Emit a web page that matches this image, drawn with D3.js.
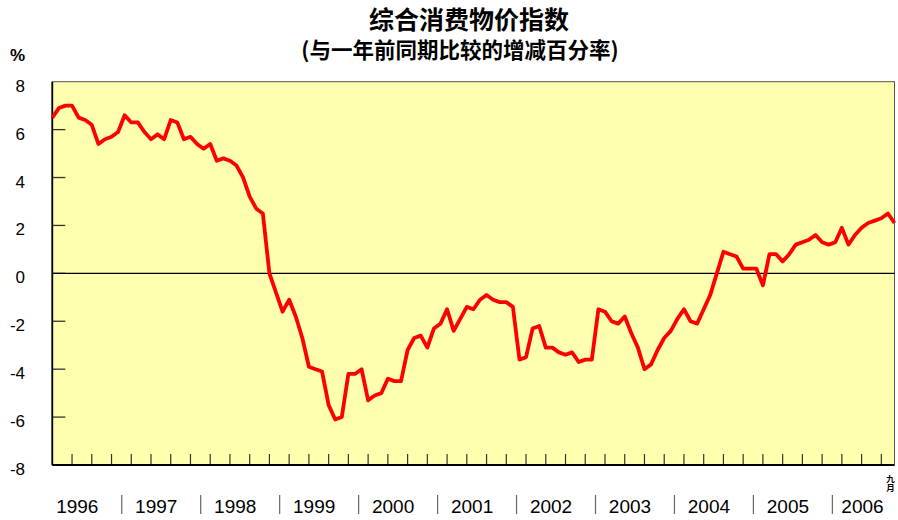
<!DOCTYPE html>
<html>
<head>
<meta charset="utf-8">
<script src="https://cdn.jsdelivr.net/npm/d3@7"></script>
<style>
  body { margin: 0; background: #fff; }
  text { font-family: "Liberation Sans", Arial, sans-serif; }
  .cjk { font-family: "Noto Sans CJK SC", sans-serif; font-weight: bold; }
</style>
</head>
<body>
<div class="cpiChart"></div>
<script>
//============ data =========//
var years = [1996, 1997, 1998, 1999, 2000, 2001, 2002, 2003, 2004, 2005, 2006];
var yTicks = [-8, -6, -4, -2, 0, 2, 4, 6, 8];
var lastMonthLabel = ['九', '月'];
var titleText = '综合消费物价指数',
  subtitleText = '(与一年前同期比较的增减百分率)';

// monthly yoy % change, Jan 1996 .. Sep 2006
var cpiValues = [
  6.5, 6.9, 7.0, 7.0, 6.5, 6.4, 6.2, 5.4, 5.6, 5.7, 5.9, 6.6,   // 1996
  6.3, 6.3, 5.9, 5.6, 5.8, 5.6, 6.4, 6.3, 5.6, 5.7, 5.4, 5.2,   // 1997
  5.4, 4.7, 4.8, 4.7, 4.5, 4.0, 3.2, 2.7, 2.5, 0.0, -0.8, -1.6, // 1998
  -1.1, -1.8, -2.7, -3.9, -4.0, -4.1, -5.5, -6.1, -6.0, -4.2, -4.2, -4.0, // 1999
  -5.3, -5.1, -5.0, -4.4, -4.5, -4.5, -3.2, -2.7, -2.6, -3.1, -2.3, -2.1, // 2000
  -1.5, -2.4, -1.9, -1.4, -1.5, -1.1, -0.9, -1.1, -1.2, -1.2, -1.4, -3.6, // 2001
  -3.5, -2.3, -2.2, -3.1, -3.1, -3.3, -3.4, -3.3, -3.7, -3.6, -3.6, -1.5, // 2002
  -1.6, -2.0, -2.1, -1.8, -2.5, -3.1, -4.0, -3.8, -3.2, -2.7, -2.4, -1.9, // 2003
  -1.5, -2.0, -2.1, -1.5, -0.9, 0.0, 0.9, 0.8, 0.7, 0.2, 0.2, 0.2,        // 2004
  -0.5, 0.8, 0.8, 0.5, 0.8, 1.2, 1.3, 1.4, 1.6, 1.3, 1.2, 1.3,            // 2005
  1.9, 1.2, 1.6, 1.9, 2.1, 2.2, 2.3, 2.5, 2.1                             // 2006
];

//============ layout =========//
var width = 898, height = 520;
var plot = {left: 52.3, right: 894.5, top: 81.7, bottom: 465};

var svg = d3.select('.cpiChart').append('svg')
  .attr('width', width)
  .attr('height', height);

// scales (x on month index so every month gets the same width)
var x = d3.scaleLinear()
  .domain([0, cpiValues.length - 1])
  .range([plot.left, plot.right]);

var y = d3.scaleLinear()
  .domain([-8, 8])
  .range([plot.bottom, plot.top]);

//============ titles =========//
svg.append('text')
  .attr('class', 'cjk')
  .attr('x', 469).attr('y', 29)
  .attr('text-anchor', 'middle')
  .style('font-size', '25px')
  .text(titleText);

svg.append('text')
  .attr('class', 'cjk')
  .attr('x', 460).attr('y', 57.5)
  .attr('text-anchor', 'middle')
  .style('font-size', '21.5px')
  .text(subtitleText);

svg.append('text')
  .attr('x', 17.5).attr('y', 61)
  .attr('text-anchor', 'middle')
  .style('font-size', '17px')
  .style('font-weight', 'bold')
  .text('%');

//============ plot area =========//
svg.append('rect')
  .attr('x', plot.left).attr('y', plot.top)
  .attr('width', plot.right - plot.left)
  .attr('height', plot.bottom - plot.top)
  .style('fill', '#ffffb0')
  .style('stroke', '#555')
  .style('stroke-width', 1);

// y ticks (inside) + labels
svg.selectAll('.ytick')
  .data(yTicks.filter(function(d) { return d > -8 && d < 8; }))
  .enter().append('line')
  .attr('class', 'ytick')
  .attr('x1', plot.left).attr('x2', plot.left + 13)
  .attr('y1', function(d) { return y(d); })
  .attr('y2', function(d) { return y(d); })
  .style('stroke', '#333')
  .style('stroke-width', 1.3);

svg.selectAll('.ylabel')
  .data(yTicks)
  .enter().append('text')
  .attr('class', 'ylabel')
  .attr('x', 25)
  .attr('y', function(d) { return y(d) + 10; })
  .attr('text-anchor', 'end')
  .style('font-size', '17px')
  .text(function(d) { return d; });

// quarterly ticks on the bottom
var quarters = d3.range(3, cpiValues.length, 3);
svg.selectAll('.xtick')
  .data(quarters)
  .enter().append('line')
  .attr('class', 'xtick')
  .attr('x1', function(d) { return x(d); })
  .attr('x2', function(d) { return x(d); })
  .attr('y1', plot.bottom).attr('y2', plot.bottom - 11)
  .style('stroke', '#333')
  .style('stroke-width', 1.2);

// zero line
svg.append('line')
  .attr('x1', plot.left).attr('x2', plot.right)
  .attr('y1', y(0)).attr('y2', y(0))
  .style('stroke', '#000')
  .style('stroke-width', 1.2);

// left + bottom axis lines
svg.append('line')
  .attr('x1', plot.left).attr('x2', plot.left)
  .attr('y1', plot.top).attr('y2', plot.bottom)
  .style('stroke', '#000').style('stroke-width', 1.8);
svg.append('line')
  .attr('x1', plot.left).attr('x2', plot.right)
  .attr('y1', plot.bottom).attr('y2', plot.bottom)
  .style('stroke', '#000').style('stroke-width', 1.8);

//============ the line =========//
var line = d3.line()
  .x(function(d, i) { return x(i); })
  .y(function(d) { return y(d); });

svg.append('path')
  .datum(cpiValues)
  .attr('d', line)
  .style('fill', 'none')
  .style('stroke', '#ff0000')
  .style('stroke-width', 3.8)
  .style('stroke-linejoin', 'round');

//============ year labels =========//
svg.selectAll('.ydiv')
  .data(years.slice(1))
  .enter().append('line')
  .attr('class', 'ydiv')
  .attr('x1', function(d, i) { return x((i + 1) * 12) - 9.5; })
  .attr('x2', function(d, i) { return x((i + 1) * 12) - 9.5; })
  .attr('y1', 495).attr('y2', 514)
  .style('stroke', '#666')
  .style('stroke-width', 1.2);

svg.selectAll('.year')
  .data(years)
  .enter().append('text')
  .attr('class', 'year')
  .attr('x', function(d, i) { return Math.min(x(i * 12) + 25, plot.right - 32); })
  .attr('y', 513)
  .attr('text-anchor', 'middle')
  .style('font-size', '19px')
  .text(function(d) { return d; });

// last month marker, written top-to-bottom as one text
svg.append('text')
  .attr('class', 'lastm cjk')
  .attr('x', x(cpiValues.length - 1) - 4)
  .attr('y', 475)
  .style('writing-mode', 'vertical-rl')
  .style('font-size', '8.5px')
  .text(lastMonthLabel.join(''));
</script>
</body>
</html>
